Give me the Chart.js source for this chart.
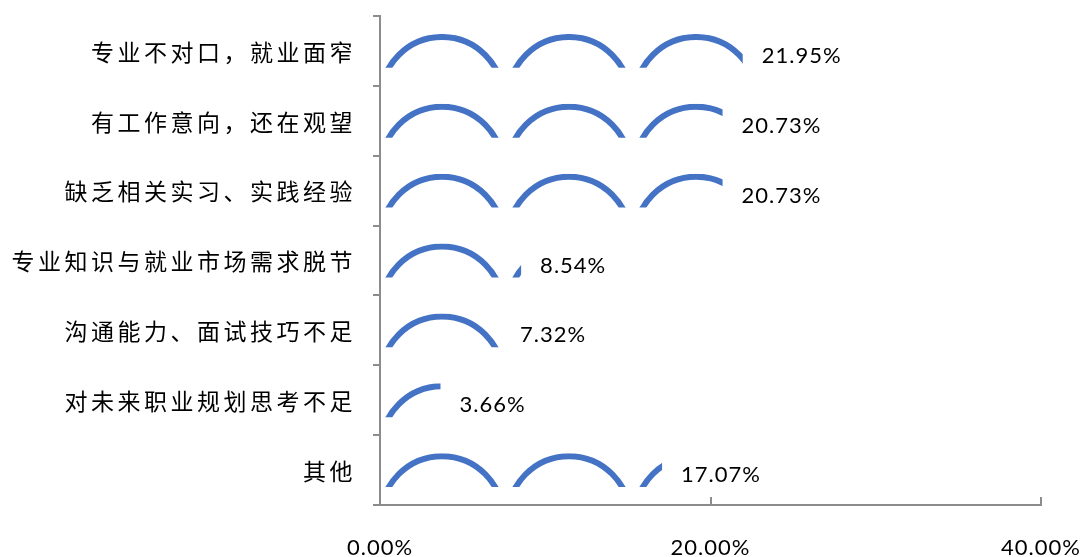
<!DOCTYPE html>
<html>
<head>
<meta charset="utf-8">
<script src="https://cdn.jsdelivr.net/npm/chart.js@4.4.0/dist/chart.umd.min.js"></script>
<style>
  body { margin: 0; background: #fff; }
</style>
</head>
<body>
<canvas id="myChart" width="1084" height="557"></canvas>
<script>
const categorias = [
    '专业不对口，就业面窄',
    '有工作意向，还在观望',
    '缺乏相关实习、实践经验',
    '专业知识与就业市场需求脱节',
    '沟通能力、面试技巧不足',
    '对未来职业规划思考不足',
    '其他'
];
const percentuais = [21.95, 20.73, 20.73, 8.54, 7.32, 3.66, 17.07];
const ticksX = [0, 20, 40];

const corAzul = '#4472C4';
const corEixo = '#8c8c8c';
const fonteCJK = '"Noto Sans CJK SC", sans-serif';
const fonteNum = 'Lato, "Open Sans", sans-serif';

// desenha os arcos (pictograma) recortados no retangulo de cada barra
const arcosPlugin = {
    id: 'arcos',
    afterDatasetsDraw(chart) {
        const ctx = chart.ctx;
        const meta = chart.getDatasetMeta(0);
        const periodo = 127, raio = 61, espessura = 6;
        meta.data.forEach((bar, i) => {
            const left = Math.min(bar.base, bar.x);
            const right = Math.max(bar.base, bar.x);
            const top = bar.y - bar.height / 2;
            const bottom = bar.y + bar.height / 2;
            ctx.save();
            ctx.beginPath();
            ctx.rect(left, top, right - left, bottom - top);
            ctx.clip();
            ctx.strokeStyle = corAzul;
            ctx.lineWidth = espessura;
            for (let cx = left + 62; cx - raio - espessura < right; cx += periodo) {
                ctx.beginPath();
                ctx.arc(cx, top + espessura / 2 + raio, raio, Math.PI, 2 * Math.PI);
                ctx.stroke();
            }
            ctx.restore();

            // rotulo do valor
            ctx.save();
            ctx.letterSpacing = '1px';
            ctx.font = '22px ' + fonteNum;
            ctx.fillStyle = '#000';
            ctx.textAlign = 'left';
            ctx.textBaseline = 'middle';
            ctx.fillText(percentuais[i].toFixed(2) + '%', right + 19, bar.y + 5);
            ctx.restore();
        });
    },
    afterDraw(chart) {
        const ctx = chart.ctx;
        const x = chart.scales.x;
        const y = chart.scales.y;
        const area = chart.chartArea;

        // marcas do eixo x para dentro
        ctx.save();
        ctx.strokeStyle = corEixo;
        ctx.lineWidth = 2;
        ticksX.forEach(v => {
            if (v === 0) return;
            const px = Math.round(x.getPixelForValue(v));
            ctx.beginPath();
            ctx.moveTo(px, area.bottom - 8);
            ctx.lineTo(px, area.bottom);
            ctx.stroke();
        });
        ctx.restore();

        // rotulos do eixo x
        ctx.save();
        ctx.letterSpacing = '1px';
        ctx.font = '22px ' + fonteNum;
        ctx.fillStyle = '#000';
        ctx.textAlign = 'center';
        ctx.textBaseline = 'middle';
        ticksX.forEach(v => {
            ctx.fillText(v.toFixed(2) + '%', x.getPixelForValue(v), 548);
        });
        ctx.restore();

        // rotulos das categorias
        ctx.save();
        ctx.letterSpacing = '3.5px';
        ctx.font = '23px ' + fonteCJK;
        ctx.fillStyle = '#000';
        ctx.textAlign = 'right';
        ctx.textBaseline = 'middle';
        categorias.forEach((c, i) => {
            ctx.fillText(c, 356, y.getPixelForValue(i) + 1);
        });
        ctx.restore();
    }
};

function desenharGrafico() {
    const config = {
        type: 'bar',
        data: {
            labels: categorias,
            datasets: [{
                label: '比例',
                data: percentuais,
                backgroundColor: 'rgba(0,0,0,0)',
                borderWidth: 0,
                barPercentage: 0.485,
                categoryPercentage: 1
            }]
        },
        options: {
            indexAxis: 'y',
            responsive: false,
            animation: false,
            layout: { padding: { top: 16, right: 43, left: 0, bottom: 0 } },
            plugins: {
                legend: { display: false },
                tooltip: { enabled: false }
            },
            scales: {
                x: {
                    min: 0,
                    max: 40,
                    ticks: { display: false, stepSize: 20 },
                    grid: { display: false },
                    border: { display: true, color: corEixo, width: 2 },
                    afterFit: s => { s.height = 52; }
                },
                y: {
                    offset: true,
                    ticks: { display: false },
                    grid: { display: true, drawOnChartArea: false, tickLength: 7, color: corEixo, lineWidth: 2, offset: true },
                    border: { display: true, color: corEixo, width: 2 },
                    afterFit: s => { s.width = 380; }
                }
            }
        },
        plugins: [arcosPlugin]
    };

    const ctx = document.getElementById('myChart').getContext('2d');
    new Chart(ctx, config);
}

desenharGrafico();
</script>
</body>
</html>
